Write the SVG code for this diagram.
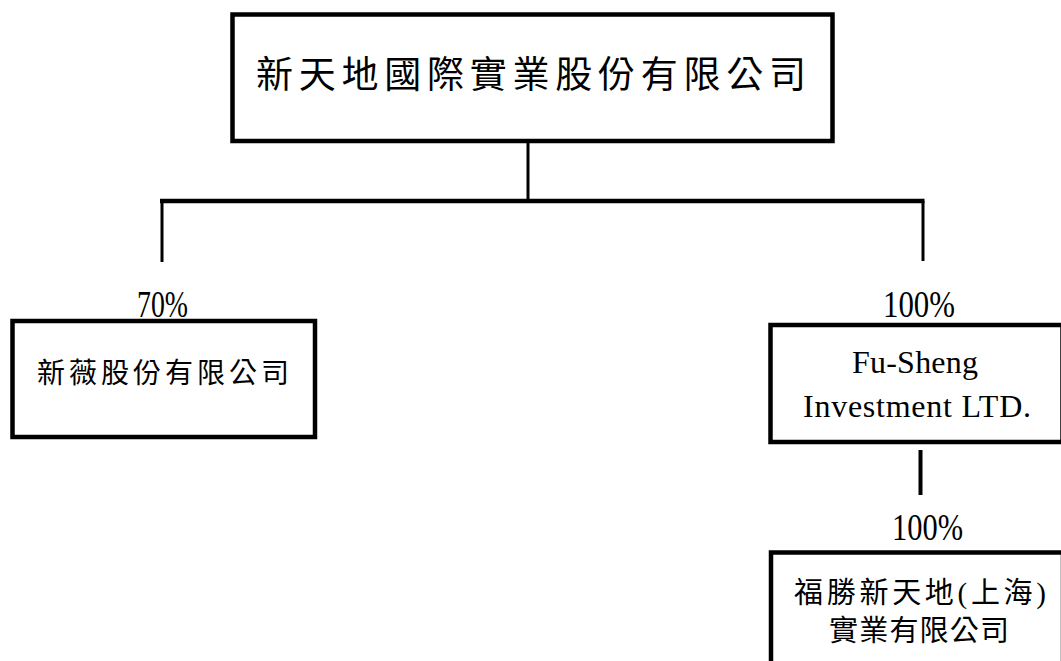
<svg xmlns="http://www.w3.org/2000/svg" width="1061" height="661" viewBox="0 0 1061 661">
<style>
.box{fill:#ffffff;stroke:#000000;stroke-width:4.5}
.ln{stroke:#000000;fill:none}
.cjk{font-family:"Liberation Serif","Noto Sans CJK TC",serif;fill:#000000}
.lat{font-family:"Liberation Serif",serif;fill:#000000}
.pct{font-family:"Liberation Serif",serif;font-size:37px;fill:#000000}
</style>
<rect x="0" y="0" width="1061" height="661" fill="#ffffff"/>
<g id="connectors">
<line class="ln" x1="528" y1="141" x2="528" y2="201" stroke-width="3"/>
<line class="ln" x1="160" y1="201" x2="924.5" y2="201" stroke-width="4.5"/>
<line class="ln" x1="162" y1="201" x2="162" y2="262" stroke-width="3"/>
<line class="ln" x1="923" y1="201" x2="923" y2="261" stroke-width="3"/>
<line class="ln" x1="920.5" y1="450" x2="920.5" y2="495" stroke-width="4"/>
</g>
<g id="node-parent">
<rect class="box" x="232.5" y="14.5" width="600" height="126.5"/>
<text class="cjk" x="256" y="88" font-size="37" textLength="550" lengthAdjust="spacing">新天地國際實業股份有限公司</text>
</g>
<g id="node-xinwei">
<text class="pct" x="137" y="317" textLength="51" lengthAdjust="spacingAndGlyphs">70%</text>
<rect class="box" x="12.5" y="321" width="302.5" height="116"/>
<text class="cjk" x="37" y="383" font-size="28" textLength="252" lengthAdjust="spacing">新薇股份有限公司</text>
</g>
<g id="node-fusheng">
<text class="pct" x="883" y="317" textLength="72" lengthAdjust="spacingAndGlyphs">100%</text>
<rect class="box" x="770.5" y="325" width="292" height="117"/>
<text class="lat" x="852" y="373" font-size="32" textLength="126" lengthAdjust="spacing">Fu-Sheng</text>
<text class="lat" x="803" y="417" font-size="32" textLength="228" lengthAdjust="spacing">Investment LTD.</text>
</g>
<g id="node-shanghai">
<text class="pct" x="892" y="540" textLength="71" lengthAdjust="spacingAndGlyphs">100%</text>
<rect class="box" x="771" y="552.5" width="292" height="200"/>
<text class="cjk" x="794" y="603" font-size="29" textLength="252" lengthAdjust="spacing">福勝新天地(上海)</text>
<text class="cjk" x="829" y="641" font-size="29" textLength="180" lengthAdjust="spacing">實業有限公司</text>
</g>
</svg>
